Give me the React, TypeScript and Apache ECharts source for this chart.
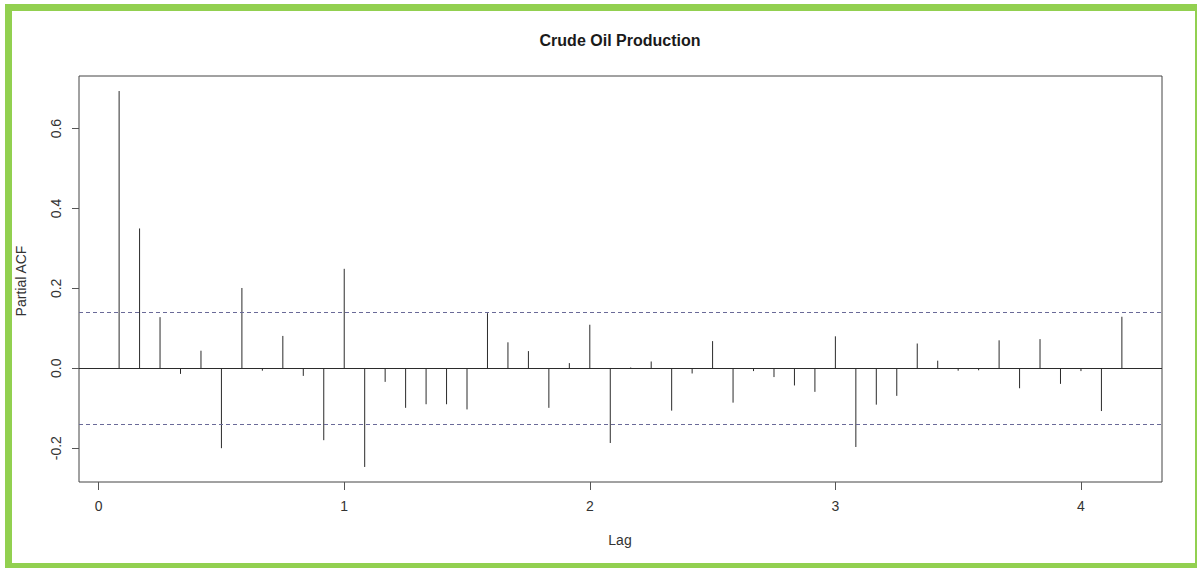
import React, { useEffect, useRef } from "react";
import * as echarts from "echarts";

// Partial autocorrelations of monthly crude oil production, lags 1..50 months
const lagMonths = [
  1, 2, 3, 4, 5, 6, 7, 8, 9, 10, 11, 12, 13, 14, 15, 16, 17, 18, 19, 20, 21, 22, 23, 24, 25,
  26, 27, 28, 29, 30, 31, 32, 33, 34, 35, 36, 37, 38, 39, 40, 41, 42, 43, 44, 45, 46, 47, 48, 49, 50,
];
const pacfValues = [
  0.694, 0.35, 0.128, -0.014, 0.044, -0.2, 0.201, -0.006, 0.081, -0.019, -0.18, 0.249, -0.247,
  -0.034, -0.099, -0.09, -0.09, -0.103, 0.138, 0.065, 0.043, -0.099, 0.013, 0.109, -0.187, 0.002,
  0.017, -0.106, -0.013, 0.068, -0.086, -0.007, -0.022, -0.043, -0.059, 0.08, -0.197, -0.091,
  -0.069, 0.062, 0.019, -0.006, -0.005, 0.07, -0.05, 0.073, -0.039, -0.007, -0.107, 0.129,
];
const frequency = 12;
const confidenceLimit = 0.138;
const xTickValues = [0, 1, 2, 3, 4];
const yTickValues = [-0.2, 0, 0.2, 0.4, 0.6];

const FONT = "'Liberation Sans', Arial, Helvetica, sans-serif";

export default function App() {
  const ref = useRef<HTMLDivElement>(null);

  useEffect(() => {
    if (!ref.current) return;
    const chart = echarts.init(ref.current, null, { renderer: "svg" });

    const lags = lagMonths.map((m) => m / frequency);
    const points = lags.map((l, i) => [l, pacfValues[i]]);

    // Axis limits like R's default: data range extended by 4% on each side
    const xLo = Math.min(...lags);
    const xHi = Math.max(...lags);
    const xPad = (xHi - xLo) * 0.04;
    const yLo = Math.min(...pacfValues, -confidenceLimit);
    const yHi = Math.max(...pacfValues, confidenceLimit);
    const yPad = (yHi - yLo) * 0.04;

    const green = "#92d050";

    chart.setOption({
      animation: false,
      backgroundColor: "#ffffff",
      grid: {
        left: 79,
        top: 76,
        right: 35,
        bottom: 86,
        show: true,
        borderColor: "#444444",
        borderWidth: 1,
        backgroundColor: "transparent",
      },
      xAxis: {
        type: "value",
        min: xLo - xPad,
        max: xHi + xPad,
        splitLine: { show: false },
        axisLine: { show: false, onZero: false },
        axisTick: {
          show: true,
          length: 8,
          inside: false,
          customValues: xTickValues,
          lineStyle: { color: "#555555" },
        },
        axisLabel: {
          customValues: xTickValues,
          margin: 17,
          color: "#333333",
          fontFamily: FONT,
          fontSize: 14,
          formatter: (v: number) => String(v),
        },
      },
      yAxis: {
        type: "value",
        min: yLo - yPad,
        max: yHi + yPad,
        splitLine: { show: false },
        axisLine: { show: false, onZero: false },
        axisTick: {
          show: true,
          length: 7,
          inside: false,
          customValues: yTickValues,
          lineStyle: { color: "#555555" },
        },
        axisLabel: {
          customValues: yTickValues,
          rotate: 90,
          margin: 16,
          color: "#333333",
          fontFamily: FONT,
          fontSize: 14,
          formatter: (v: number) => v.toFixed(1),
        },
      },
      series: [
        {
          type: "custom",
          data: points,
          renderItem: (params: any, api: any) => {
            const x = api.value(0);
            const top = api.coord([x, api.value(1)]);
            const base = api.coord([x, 0]);
            return {
              type: "line",
              shape: { x1: top[0], y1: top[1], x2: base[0], y2: base[1] },
              style: { stroke: "#2b2b2b", lineWidth: 1 },
            };
          },
          silent: true,
          markLine: {
            silent: true,
            symbol: "none",
            label: { show: false },
            data: [
              { yAxis: 0, lineStyle: { color: "#2b2b2b", type: "solid", width: 1 } },
              {
                yAxis: confidenceLimit,
                lineStyle: { color: "#6a6a98", type: [4, 3], width: 1 },
              },
              {
                yAxis: -confidenceLimit,
                lineStyle: { color: "#6a6a98", type: [4, 3], width: 1 },
              },
            ],
          },
        },
      ],
      graphic: [
        // green frame
        { type: "rect", shape: { x: 5, y: 4, width: 7, height: 564 }, style: { fill: green }, silent: true },
        { type: "rect", shape: { x: 5, y: 4, width: 1192, height: 7 }, style: { fill: green }, silent: true },
        { type: "rect", shape: { x: 1195, y: 4, width: 2, height: 564 }, style: { fill: green }, silent: true },
        { type: "rect", shape: { x: 5, y: 563, width: 1192, height: 5 }, style: { fill: green }, silent: true },
        {
          type: "text",
          x: 620,
          y: 40,
          silent: true,
          style: {
            text: "Crude Oil Production",
            fill: "#1a1a1a",
            font: `bold 16px ${FONT}`,
            textAlign: "center",
            textVerticalAlign: "middle",
          },
        },
        {
          type: "text",
          x: 620,
          y: 540,
          silent: true,
          style: {
            text: "Lag",
            fill: "#333333",
            font: `14px ${FONT}`,
            textAlign: "center",
            textVerticalAlign: "middle",
          },
        },
        {
          type: "text",
          x: 21,
          y: 281,
          rotation: Math.PI / 2,
          silent: true,
          style: {
            text: "Partial ACF",
            fill: "#333333",
            font: `14px ${FONT}`,
            textAlign: "center",
            textVerticalAlign: "middle",
          },
        },
      ],
    });

    return () => chart.dispose();
  }, []);

  return (
    <div
      ref={ref}
      style={{ position: "fixed", left: 0, top: 0, width: 1197, height: 568, background: "#fff" }}
    />
  );
}
